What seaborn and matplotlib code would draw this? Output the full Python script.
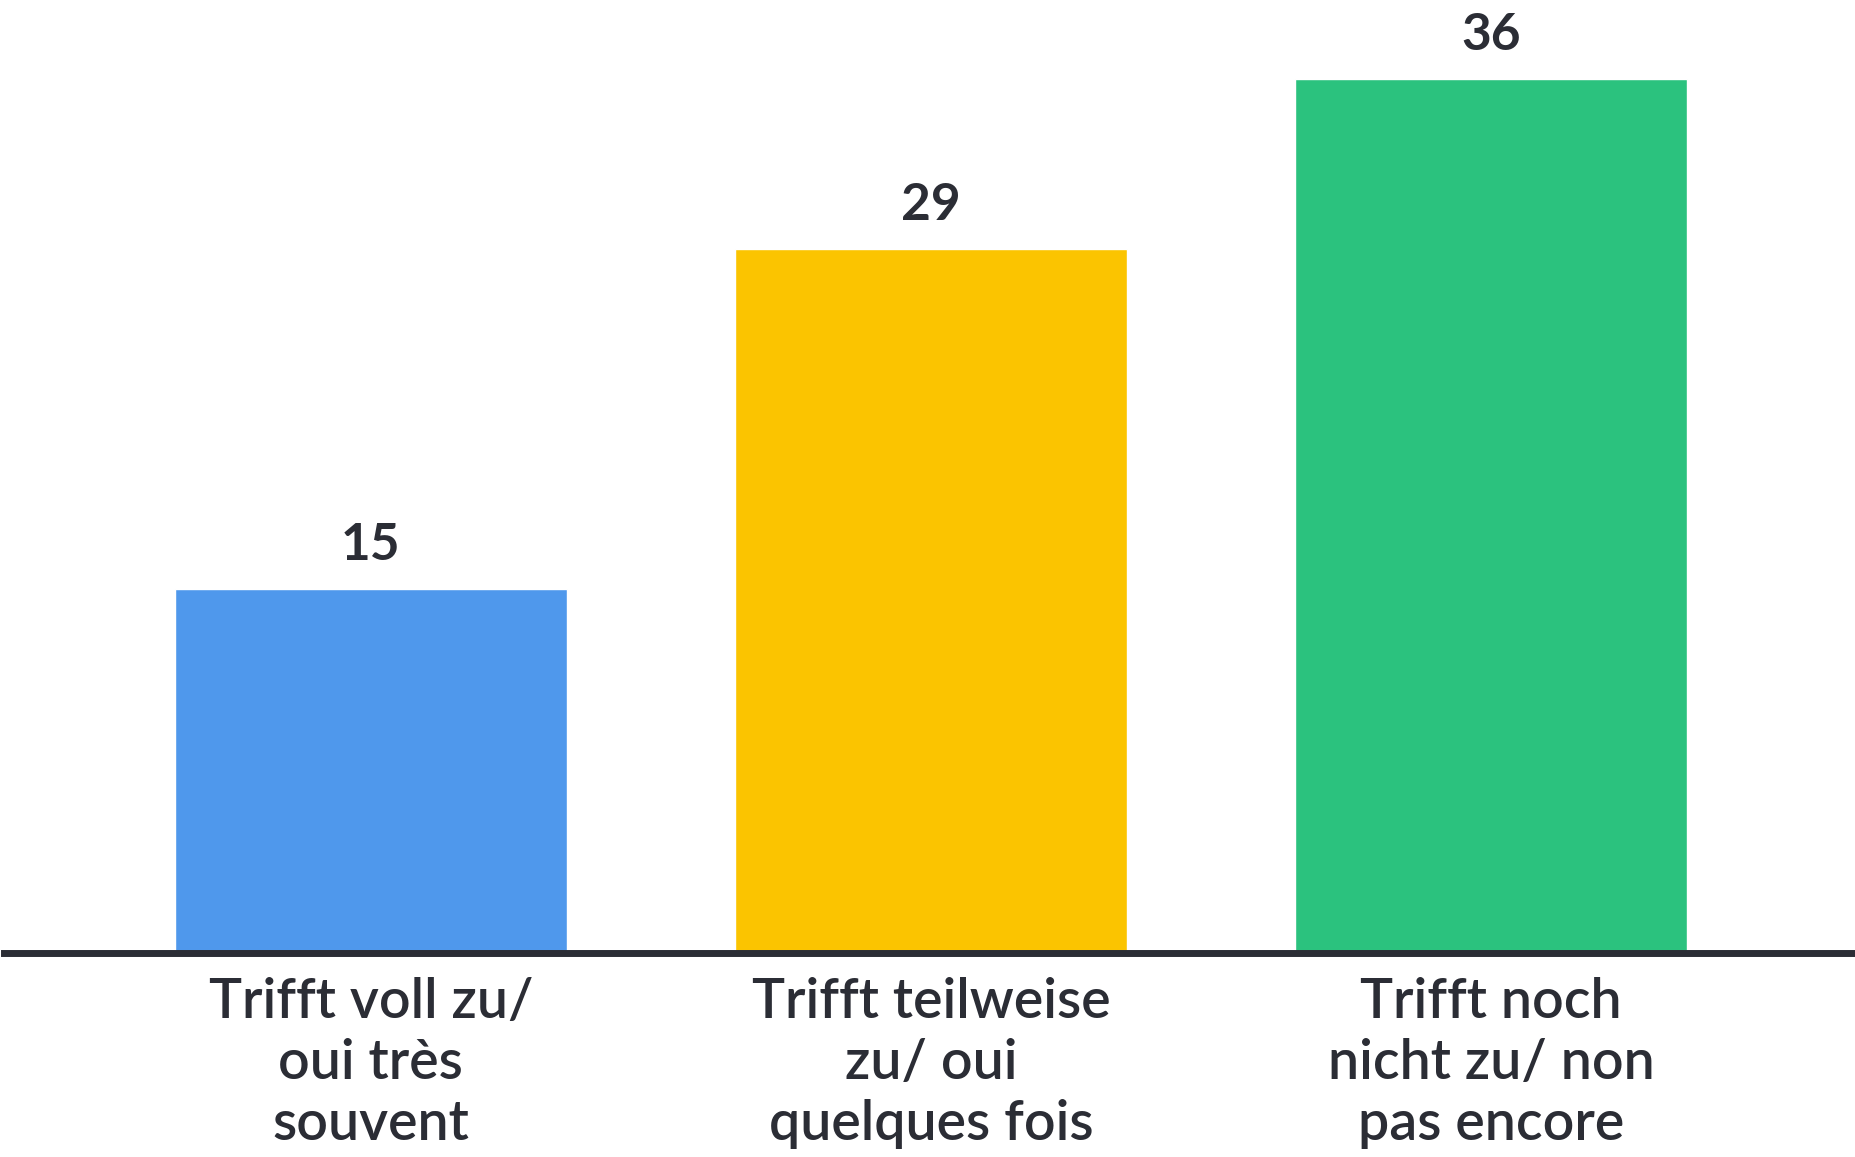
import matplotlib
matplotlib.use("Agg")
import matplotlib.pyplot as plt
import seaborn as sns
import pandas as pd

categories = ["Trifft voll zu/\noui très\nsouvent",
              "Trifft teilweise\nzu/ oui\nquelques fois",
              "Trifft noch\nnicht zu/ non\npas encore"]
values = [15, 29, 36]
colors = ["#4F98EC", "#FBC400", "#2BC27E"]

sns.set_theme(style="white")
plt.rcParams['font.family'] = ['Lato', 'DejaVu Sans']
text_color = "#2B2D35"

df = pd.DataFrame({"cat": categories, "val": values})

fig = plt.figure(figsize=(18.55, 11.57), dpi=100)
ax = fig.add_axes([4/1855, (1157-953)/1157, 1851/1855, 953/1157])
sns.barplot(data=df, x="cat", y="val", hue="cat", palette=colors,
            width=0.7, legend=False, ax=ax, saturation=1)

for c in ax.containers:
    ax.bar_label(c, fmt="%d", padding=14, fontsize=37, color=text_color, fontweight="bold")

ax.set_xlim(-0.655, 2.65)
ax.set_ylim(0, 39.25)
ax.set_xlabel("")
ax.set_ylabel("")
ax.set_yticks([])
for s in ["top", "left", "right"]:
    ax.spines[s].set_visible(False)
ax.spines["bottom"].set_color(text_color)
ax.spines["bottom"].set_linewidth(5)
ax.tick_params(axis="x", length=0, pad=17)
for lbl in ax.get_xticklabels():
    lbl.set_fontsize(40)
    lbl.set_color(text_color)
    lbl.set_fontweight("semibold")
    lbl.set_linespacing(1.27)
    lbl.set_verticalalignment("top")

fig.savefig("out.png", dpi=100, facecolor="white")
